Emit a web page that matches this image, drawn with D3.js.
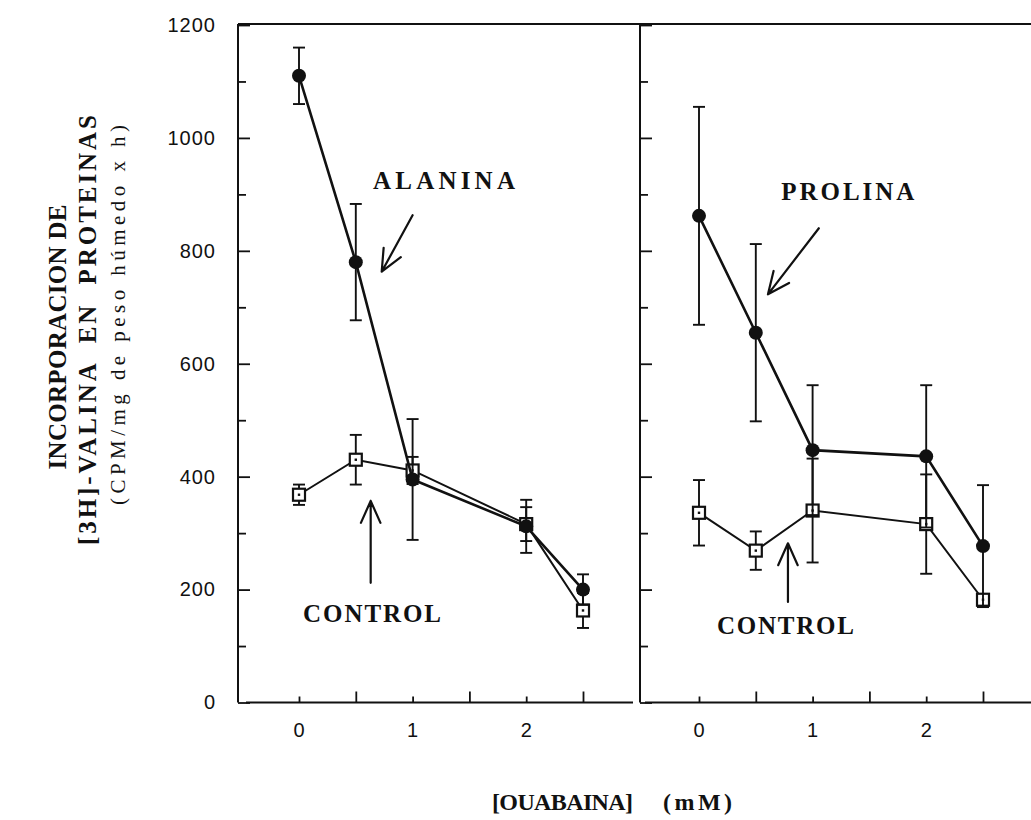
<!DOCTYPE html>
<html>
<head>
<meta charset="utf-8">
<script src="https://cdn.jsdelivr.net/npm/d3@7"></script>
<style>
  html, body { margin: 0; padding: 0; background: #fff; }
  svg { display: block; }
  .tick text { font-family: "Liberation Sans", Arial, sans-serif; font-size: 20px; fill: #111; letter-spacing: 1px; }
  .pre { white-space: pre; }
</style>
</head>
<body>
<svg id="chart" width="1031" height="820"></svg>
<script>
// Ouabain concentration (mM) at which each sample was measured
const ouabaina = [0, 0.5, 1, 2, 2.5];

// Left panel: alanine vs control
const alanina      = [1110, 780, 395, 312, 200];
const alaninaErr   = [50, 103, 107, 47, 27];
const controlAla    = [368, 430, 411, 316, 163];
const controlAlaErr = [18, 44, 24, 30, 31];

// Right panel: proline vs control
const prolina      = [862, 655, 447, 436, 277];
const prolinaErr   = [193, 157, 115, 126, 108];
const controlPro    = [336, 269, 340, 316, 182];
const controlProErr = [58, 34, 92, 88, 10];

// Axis ticks
const yMajor = [0, 200, 400, 600, 800, 1000, 1200];
const yMinor = [100, 300, 500, 700, 900, 1100];
const xMajor = [0, 1, 2];
const xMinor = [0.5, 1.5, 2.5];

const svg = d3.select("#chart");
const ink = "#111";
const serif = "'Liberation Serif', 'Times New Roman', serif";

const y = d3.scaleLinear().domain([0, 1200]).range([702.5, 25]);
const xL = d3.scaleLinear().domain([0, 2.5]).range([299, 583]);
const xR = d3.scaleLinear().domain([0, 2.5]).range([699, 983]);

const axisY = 702.5;

// ---- frame ----
const frame = svg.append("g").attr("stroke", ink).attr("stroke-width", 2).attr("fill", "none");
frame.append("line").attr("x1", 238).attr("x2", 1031).attr("y1", 24).attr("y2", 24);
frame.append("line").attr("x1", 238).attr("x2", 238).attr("y1", 24).attr("y2", axisY);
frame.append("line").attr("x1", 640).attr("x2", 640).attr("y1", 24).attr("y2", axisY);
frame.append("line").attr("x1", 246).attr("x2", 633).attr("y1", axisY).attr("y2", axisY);
frame.append("line").attr("x1", 645).attr("x2", 1031).attr("y1", axisY).attr("y2", axisY);

function styleTicks(g) {
  g.select(".domain").remove();
  g.selectAll(".tick line").attr("stroke", ink).attr("stroke-width", 1.8);
}

// ---- y axes (ticks point inward) ----
[238, 640].forEach(px => {
  svg.append("g").attr("transform", `translate(${px},0)`)
    .call(d3.axisRight(y).tickValues(yMajor).tickSize(12).tickFormat(""))
    .call(styleTicks);
  svg.append("g").attr("transform", `translate(${px},0)`)
    .call(d3.axisRight(y).tickValues(yMinor).tickSize(8).tickFormat(""))
    .call(styleTicks);
});
svg.append("g").attr("transform", "translate(238,0)")
  .call(d3.axisLeft(y).tickValues(yMajor).tickSize(0).tickPadding(22).tickFormat(d3.format("d")))
  .call(g => g.select(".domain").remove());

// ---- x axes ----
[xL, xR].forEach(sx => {
  svg.append("g").attr("transform", `translate(0,${axisY})`)
    .call(d3.axisTop(sx).tickValues(xMajor).tickSize(6).tickFormat(""))
    .call(styleTicks);
  svg.append("g").attr("transform", `translate(0,${axisY})`)
    .call(d3.axisTop(sx).tickValues(xMinor).tickSize(11).tickFormat(""))
    .call(styleTicks);
  svg.append("g").attr("transform", `translate(0,${axisY})`)
    .call(d3.axisBottom(sx).tickValues(xMajor).tickSize(0).tickPadding(20).tickFormat(d3.format("d")))
    .call(g => g.select(".domain").remove());
});

// ---- series ----
function drawSeries(sx, vals, errs, marker) {
  const g = svg.append("g");
  const pts = ouabaina.map((c, i) => ({ x: sx(c), y: y(vals[i]), lo: y(vals[i] - errs[i]), hi: y(vals[i] + errs[i]) }));
  // error bars
  const eb = g.append("g").attr("stroke", ink).attr("stroke-width", 1.9);
  pts.forEach(p => {
    eb.append("line").attr("x1", p.x).attr("x2", p.x).attr("y1", p.lo).attr("y2", p.hi);
    eb.append("line").attr("x1", p.x - 6).attr("x2", p.x + 6).attr("y1", p.lo).attr("y2", p.lo);
    eb.append("line").attr("x1", p.x - 6).attr("x2", p.x + 6).attr("y1", p.hi).attr("y2", p.hi);
  });
  // connecting line
  g.append("path").datum(pts)
    .attr("fill", "none").attr("stroke", ink)
    .attr("stroke-width", marker === "circle" ? 2.6 : 2)
    .attr("d", d3.line().x(d => d.x).y(d => d.y));
  // markers
  if (marker === "circle") {
    g.selectAll("circle.m").data(pts).join("circle").attr("class", "m")
      .attr("cx", d => d.x).attr("cy", d => d.y).attr("r", 7).attr("fill", ink);
  } else {
    g.selectAll("rect.m").data(pts).join("rect").attr("class", "m")
      .attr("x", d => d.x - 6).attr("y", d => d.y - 6).attr("width", 12).attr("height", 12)
      .attr("fill", "#fff").attr("stroke", ink).attr("stroke-width", 2.2);
    g.selectAll("rect.dot").data(pts).join("rect").attr("class", "dot")
      .attr("x", d => d.x - 1.2).attr("y", d => d.y - 1.2).attr("width", 2.4).attr("height", 2.4)
      .attr("fill", ink);
  }
}

drawSeries(xL, controlAla, controlAlaErr, "square");
drawSeries(xL, alanina, alaninaErr, "circle");
drawSeries(xR, controlPro, controlProErr, "square");
drawSeries(xR, prolina, prolinaErr, "circle");

// ---- annotations (placed in data units) ----
const labels = [
  { sx: xL, c: 1.276, v: 909, text: "ALANINA", len: 142 },
  { sx: xL, c: 0.643, v: 142, text: "CONTROL", len: 138 },
  { sx: xR, c: 1.31,  v: 890, text: "PROLINA", len: 133 },
  { sx: xR, c: 0.761, v: 122, text: "CONTROL", len: 137 }
];
svg.append("g").selectAll("text").data(labels).join("text")
  .attr("x", d => d.sx(d.c)).attr("y", d => y(d.v))
  .attr("text-anchor", "middle")
  .attr("font-family", serif)
  .attr("font-weight", "bold").attr("font-size", 25)
  .attr("textLength", d => d.len).attr("lengthAdjust", "spacing")
  .attr("fill", ink)
  .text(d => d.text);

const arrows = [
  { sx: xL, from: [1.0, 863],   to: [0.728, 763] },
  { sx: xL, from: [0.631, 212], to: [0.631, 357] },
  { sx: xR, from: [1.055, 840], to: [0.607, 723] },
  { sx: xR, from: [0.783, 178], to: [0.783, 282] }
];
const ag = svg.append("g").attr("stroke", ink).attr("stroke-width", 2.2).attr("fill", "none")
  .attr("stroke-linecap", "round").attr("stroke-linejoin", "round");
arrows.forEach(a => {
  const x1 = a.sx(a.from[0]), y1 = y(a.from[1]);
  const x2 = a.sx(a.to[0]),   y2 = y(a.to[1]);
  const ang = Math.atan2(y1 - y2, x1 - x2);
  const hl = 24, spread = 0.42;
  const h1 = [x2 + hl * Math.cos(ang - spread), y2 + hl * Math.sin(ang - spread)];
  const h2 = [x2 + hl * Math.cos(ang + spread), y2 + hl * Math.sin(ang + spread)];
  ag.append("path").attr("d", `M${x1},${y1}L${x2},${y2}M${h1[0]},${h1[1]}L${x2},${y2}L${h2[0]},${h2[1]}`);
});

// ---- axis titles ----
const yTitle = [
  { text: "INCORPORACION DE", x: 66, cy: 337, len: 265, size: 25, weight: "bold" },
  { text: "[3H]-VALINA  EN  PROTEINAS", x: 96, cy: 330, len: 430, size: 25, weight: "bold" },
  { text: "(CPM/mg de peso húmedo x h)", x: 125, cy: 315, len: 380, size: 21, weight: "normal" }
];
svg.append("g").selectAll("text").data(yTitle).join("text")
  .attr("class", "pre")
  .attr("transform", d => `translate(${d.x},${d.cy}) rotate(-90)`)
  .attr("text-anchor", "middle")
  .attr("font-family", serif).attr("font-size", d => d.size).attr("font-weight", d => d.weight)
  .attr("textLength", d => d.len).attr("lengthAdjust", "spacing")
  .attr("fill", ink)
  .text(d => d.text);

const xTitle = svg.append("g").attr("font-family", serif).attr("font-weight", "bold")
  .attr("font-size", 24).attr("fill", ink);
xTitle.append("text").attr("x", 492).attr("y", 810).attr("textLength", 141).attr("lengthAdjust", "spacing").text("[OUABAINA]");
xTitle.append("text").attr("x", 663).attr("y", 810).attr("textLength", 69).attr("lengthAdjust", "spacing").text("(mM)");
</script>
</body>
</html>
